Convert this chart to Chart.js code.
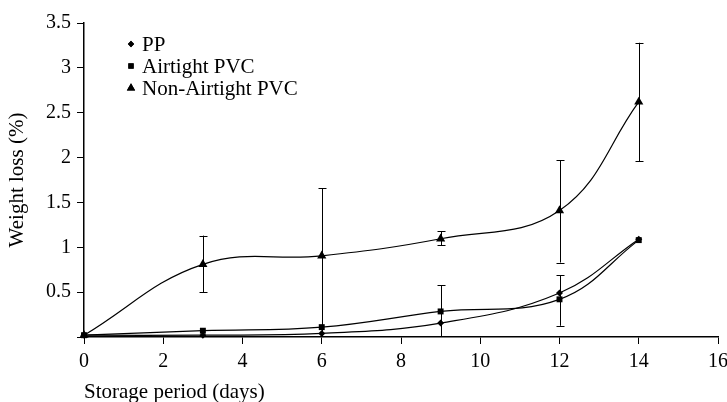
<!DOCTYPE html>
<html>
<head>
<meta charset="utf-8">
<script src="https://cdn.jsdelivr.net/npm/chart.js@4.4.1/dist/chart.umd.min.js"></script>
<style>
  body { margin: 0; background: #fff; }
  #wrap { width: 727px; height: 402px; }
</style>
</head>
<body>
<div id="wrap"><canvas id="myChart"></canvas></div>
<script>
// values
const days = [0, 3, 6, 9, 12, 14];
const ppLoss = [0.02, 0.02, 0.04, 0.155, 0.49, 1.09];
const airtightLoss = [0.02, 0.07, 0.11, 0.285, 0.42, 1.08];
const nonAirtightLoss = [0.02, 0.81, 0.905, 1.095, 1.41, 2.62];

// error bar ends (null = no bar)
const airtightLow = [null, null, null, 0.0, 0.125, null];
const airtightHigh = [null, null, null, 0.575, 0.69, null];
const nonAirtightLow = [null, 0.5, 0.0, 1.02, 0.83, 1.96];
const nonAirtightHigh = [null, 1.13, 1.66, 1.18, 1.97, 3.28];

const xTicks = [0, 2, 4, 6, 8, 10, 12, 14, 16];
const yTicks = [0, 0.5, 1, 1.5, 2, 2.5, 3, 3.5];

const FONT = "'Liberation Serif', 'Times New Roman', serif";

const toPoints = (vals) => vals.map((v, i) => ({ x: days[i], y: v }));

const series = [
  { label: 'PP', data: ppLoss, style: 'rectRot', radius: 3.5, low: null, high: null },
  { label: 'Airtight PVC', data: airtightLoss, style: 'rect', radius: 4.2, low: airtightLow, high: airtightHigh },
  { label: 'Non-Airtight PVC', data: nonAirtightLoss, style: 'triangle', radius: 5.3, low: nonAirtightLow, high: nonAirtightHigh },
];

const errorBars = {
  id: 'errorBars',
  beforeDatasetsDraw(chart) {
    const { ctx, scales } = chart;
    const x = scales.x, y = scales.y;
    ctx.save();
    ctx.strokeStyle = '#000';
    ctx.lineWidth = 1;
    series.forEach((s) => {
      if (!s.low) return;
      days.forEach((d, i) => {
        if (s.low[i] == null) return;
        const px = Math.round(x.getPixelForValue(d)) + 0.5;
        const top = y.getPixelForValue(s.high[i]);
        const bot = y.getPixelForValue(s.low[i]);
        ctx.beginPath();
        ctx.moveTo(px, top);
        ctx.lineTo(px, bot);
        ctx.moveTo(px - 4, Math.round(top) + 0.5);
        ctx.lineTo(px + 4, Math.round(top) + 0.5);
        if (s.low[i] > 0) {
          ctx.moveTo(px - 4, Math.round(bot) + 0.5);
          ctx.lineTo(px + 4, Math.round(bot) + 0.5);
        }
        ctx.stroke();
      });
    });
    ctx.restore();
  },
};

const insideLegend = {
  id: 'insideLegend',
  afterDraw(chart) {
    const { ctx } = chart;
    ctx.save();
    ctx.fillStyle = '#000';
    ctx.font = '21px ' + FONT;
    ctx.textBaseline = 'middle';
    series.forEach((s, i) => {
      const yy = 44 + i * 22;
      Chart.helpers.drawPoint(ctx, {
        pointStyle: s.style,
        radius: s.style === 'triangle' ? 4.8 : s.radius * 0.9,
        rotation: 0,
        borderWidth: 0,
      }, 131, yy);
      ctx.fill();
      ctx.fillText(s.label, 142, yy + 1);
    });
    ctx.restore();
  },
};

const ctx = document.getElementById('myChart');

new Chart(ctx, {
  type: 'line',
  data: {
    datasets: series.map((s) => ({
      label: s.label,
      data: toPoints(s.data),
      borderColor: '#000',
      backgroundColor: '#000',
      borderWidth: 1.2,
      pointStyle: s.style,
      pointRadius: s.radius,
      pointBorderWidth: 0,
      tension: 0.4,
      clip: false,
    })),
  },
  options: {
    responsive: true,
    maintainAspectRatio: false,
    animation: false,
    layout: { padding: { top: 23, right: 9, left: 0, bottom: 0 } },
    plugins: {
      legend: { display: false },
      tooltip: { enabled: false },
    },
    scales: {
      x: {
        type: 'linear',
        min: 0,
        max: 16,
        afterBuildTicks: (scale) => { scale.ticks = xTicks.map((v) => ({ value: v })); },
        afterFit: (scale) => {
          scale.height = 65;
          scale.paddingLeft = 0;
          scale.paddingRight = 0;
        },
        border: { color: '#000', width: 1.5 },
        grid: { drawOnChartArea: false, drawTicks: true, tickLength: 7, color: '#000' },
        ticks: { color: '#000', font: { family: FONT, size: 20 }, padding: 6, maxRotation: 0 },
        title: {
          display: true,
          text: 'Storage period (days)',
          align: 'start',
          color: '#000',
          font: { family: FONT, size: 21 },
          padding: { top: 0, bottom: -3 },
        },
      },
      y: {
        min: 0,
        max: 3.5,
        afterBuildTicks: (scale) => { scale.ticks = yTicks.map((v) => ({ value: v })); },
        afterFit: (scale) => { scale.width = 84; },
        border: { color: '#000', width: 1.5 },
        grid: { drawOnChartArea: false, drawTicks: true, tickLength: 7, color: '#000' },
        ticks: {
          color: '#000',
          font: { family: FONT, size: 20 },
          padding: 6,
          callback: (v) => (v === 0 ? '' : String(v)),
        },
        title: {
          display: true,
          text: 'Weight loss (%)',
          color: '#000',
          font: { family: FONT, size: 21 },
          padding: { top: 5, bottom: 0 },
        },
      },
    },
  },
  plugins: [errorBars, insideLegend],
});
</script>
</body>
</html>
